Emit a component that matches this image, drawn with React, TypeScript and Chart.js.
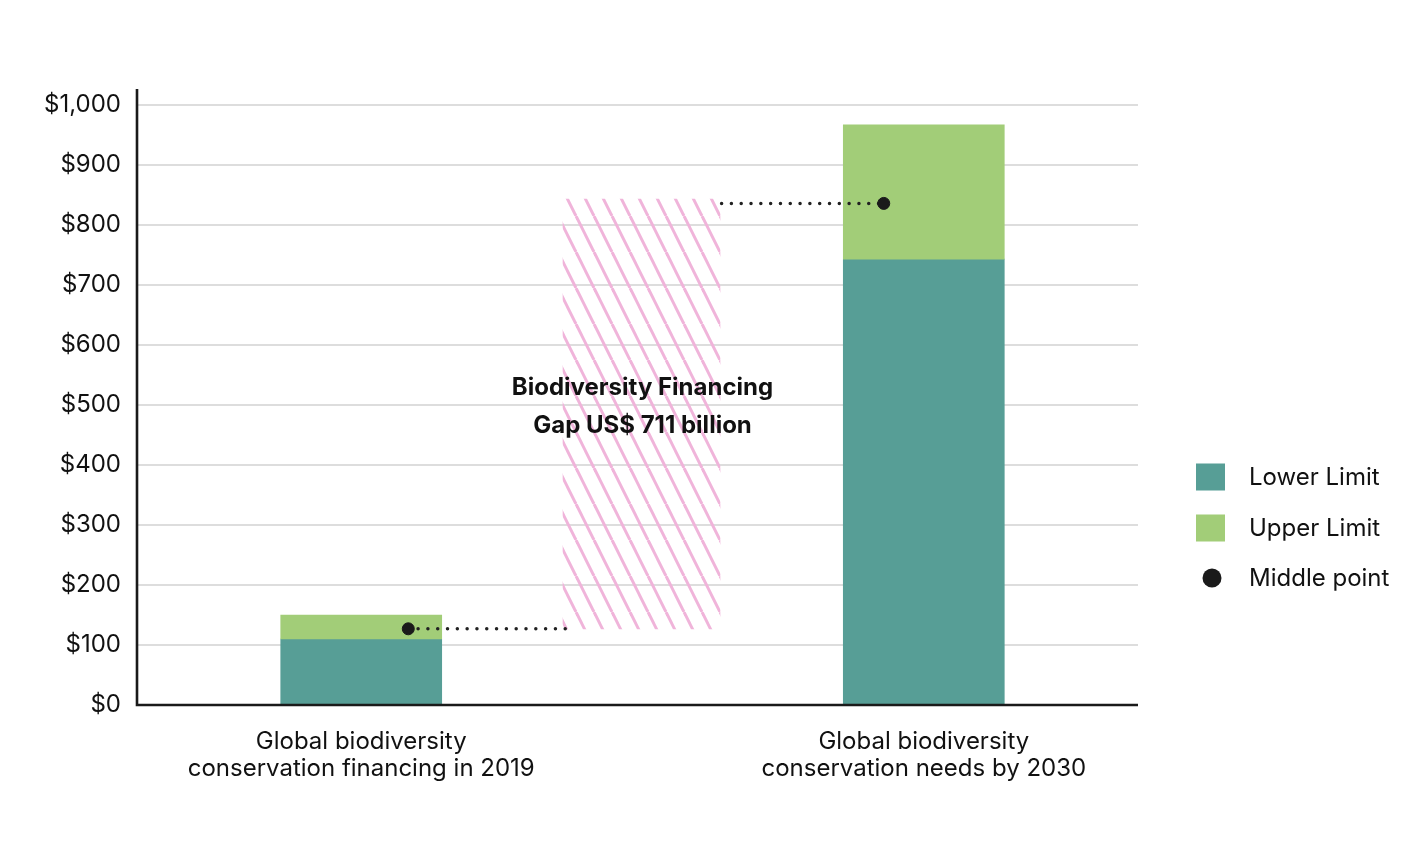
import { useEffect, useRef } from "react"
import { Chart, registerables, type ChartConfiguration, type Plugin } from "chart.js"

Chart.register(...registerables)

// Category labels and where they sit on the 0-100 x axis
const categories = [
  ["Global biodiversity", "conservation financing in 2019"],
  ["Global biodiversity", "conservation needs by 2030"],
]
const categoryX = [22.4, 78.6]

// US$ billion
const lowerLimit = [110, 743]
const upperLimit = [150, 967]
const middlePoint = [127, 836]
const middlePointX = [27.1, 74.6]

// financing gap band and the dotted connectors
const gapX = 50.4
const gapRange = [127, 843]
const gapLabel = ["Biodiversity Financing", "Gap US$ 711 billion"]
const connectorLeftX = [27.1, 43.3]
const connectorRightX = [58.4, 74.6]

const yTicks = [0, 100, 200, 300, 400, 500, 600, 700, 800, 900, 1000]

const legendItems = [
  { label: "Lower Limit", color: "#579e96", shape: "rect" },
  { label: "Upper Limit", color: "#a2cd78", shape: "rect" },
  { label: "Middle point", color: "#1a1a1a", shape: "circle" },
]

const FONT = "Inter, 'Noto Sans', sans-serif"

function makeHatch(): CanvasPattern | string {
  const tile = document.createElement("canvas")
  const w = 18
  const h = 36
  tile.width = w
  tile.height = h
  const c = tile.getContext("2d")
  if (!c) return "#f0b4da"
  c.strokeStyle = "#f0b4da"
  c.lineWidth = 3
  for (const dx of [-w, 0, w]) {
    c.beginPath()
    c.moveTo(dx, 0)
    c.lineTo(dx + w, h)
    c.stroke()
  }
  const p = c.createPattern(tile, "repeat")
  return p ?? "#f0b4da"
}

const extrasPlugin: Plugin = {
  id: "extras",
  afterDatasetsDraw(chart) {
    const { ctx, chartArea, scales } = chart
    const x = scales.x
    const y = scales.y

    // gap label
    ctx.save()
    ctx.fillStyle = "#111"
    ctx.font = `bold 24px ${FONT}`
    ctx.textAlign = "center"
    ctx.textBaseline = "middle"
    const cx = x.getPixelForValue(gapX) + 1
    const cy = y.getPixelForValue(500) + 2
    ctx.fillText(gapLabel[0], cx, cy - 19)
    ctx.fillText(gapLabel[1], cx, cy + 19)
    ctx.restore()

    // axes
    ctx.save()
    ctx.strokeStyle = "#1a1a1a"
    ctx.lineWidth = 2.6
    ctx.beginPath()
    ctx.moveTo(chartArea.left, chartArea.top - 16)
    ctx.lineTo(chartArea.left, chartArea.bottom)
    ctx.lineTo(chartArea.right, chartArea.bottom)
    ctx.stroke()
    ctx.restore()
  },
  afterDraw(chart) {
    const { ctx, chartArea } = chart
    const lx = chartArea.right + 58
    const rowY = [477, 528, 578]
    ctx.save()
    ctx.font = `24px ${FONT}`
    ctx.textBaseline = "middle"
    ctx.textAlign = "left"
    legendItems.forEach((item, i) => {
      const ry = rowY[i]
      ctx.fillStyle = item.color
      if (item.shape === "rect") {
        ctx.fillRect(lx, ry - 13.5, 29, 27)
      } else {
        ctx.beginPath()
        ctx.arc(lx + 16, ry, 9.5, 0, Math.PI * 2)
        ctx.fill()
      }
      ctx.fillStyle = "#111"
      ctx.fillText(item.label, lx + 53, ry + 1)
    })
    ctx.restore()
  },
}

export default function App() {
  const chartRef = useRef<HTMLCanvasElement>(null)
  const chartInstance = useRef<Chart | null>(null)

  useEffect(() => {
    document.body.style.margin = "0"
    if (!chartRef.current) return
    if (chartInstance.current) chartInstance.current.destroy()

    Chart.defaults.font.family = FONT
    const hatch = makeHatch()

    const config: ChartConfiguration = {
      type: "bar",
      data: {
        datasets: [
          {
            type: "scatter",
            label: "Middle point",
            data: middlePoint.map((v, i) => ({ x: middlePointX[i], y: v })),
            backgroundColor: "#1a1a1a",
            borderColor: "#1a1a1a",
            pointRadius: 6,
            pointHoverRadius: 6,
            order: 0,
          } as any,
          {
            type: "line",
            label: "connector-left",
            data: connectorLeftX.map((cx) => ({ x: cx, y: middlePoint[0] })),
            borderColor: "#222",
            borderWidth: 3.5,
            borderDash: [0.01, 9.8],
            borderCapStyle: "round",
            pointRadius: 0,
            order: 1,
          } as any,
          {
            type: "line",
            label: "connector-right",
            data: connectorRightX.map((cx) => ({ x: cx, y: middlePoint[1] })),
            borderColor: "#222",
            borderWidth: 3.5,
            borderDash: [0.01, 9.8],
            borderCapStyle: "round",
            pointRadius: 0,
            order: 1,
          } as any,
          {
            label: "Upper Limit",
            data: upperLimit.map((v, i) => ({ x: categoryX[i], y: [lowerLimit[i], v] })),
            backgroundColor: "#a2cd78",
            barThickness: 161,
            grouped: false,
            order: 2,
          } as any,
          {
            label: "Lower Limit",
            data: lowerLimit.map((v, i) => ({ x: categoryX[i], y: v })),
            backgroundColor: "#579e96",
            barThickness: 161,
            grouped: false,
            order: 2,
          } as any,
          {
            label: "Gap",
            data: [{ x: gapX, y: gapRange }],
            backgroundColor: hatch,
            barThickness: 157,
            grouped: false,
            order: 3,
          } as any,
        ],
      },
      options: {
        responsive: false,
        animation: false,
        layout: { padding: { top: 105, right: 282, left: 0, bottom: 0 } },
        scales: {
          x: {
            type: "linear",
            min: 0,
            max: 100,
            offset: false,
            grid: { display: false },
            border: { display: false },
            afterBuildTicks: (axis) => {
              axis.ticks = categoryX.map((v) => ({ value: v }))
            },
            afterFit: (axis) => {
              axis.height = 153
            },
            ticks: {
              autoSkip: false,
              maxRotation: 0,
              padding: 16,
              color: "#111",
              font: { size: 24, lineHeight: 1.1 },
              callback: (value) => {
                const i = categoryX.indexOf(Number(value))
                return i >= 0 ? categories[i] : ""
              },
            },
          },
          y: {
            type: "linear",
            min: 0,
            max: 1000,
            grid: { color: "#dddddd", lineWidth: 2, drawTicks: false },
            border: { display: false },
            afterBuildTicks: (axis) => {
              axis.ticks = yTicks.map((v) => ({ value: v }))
            },
            afterFit: (axis) => {
              axis.width = 137
            },
            ticks: {
              padding: 16,
              color: "#111",
              font: { size: 24 },
              callback: (value) => "$" + Number(value).toLocaleString("en-US"),
            },
          },
        },
        plugins: {
          legend: { display: false },
          tooltip: { enabled: false },
        },
      },
      plugins: [extrasPlugin],
    }

    chartInstance.current = new Chart(chartRef.current, config)

    return () => {
      if (chartInstance.current) {
        chartInstance.current.destroy()
        chartInstance.current = null
      }
    }
  }, [])

  return (
    <div style={{ width: 1420, height: 858, background: "#fff" }}>
      <canvas ref={chartRef} width={1420} height={858}></canvas>
    </div>
  )
}
